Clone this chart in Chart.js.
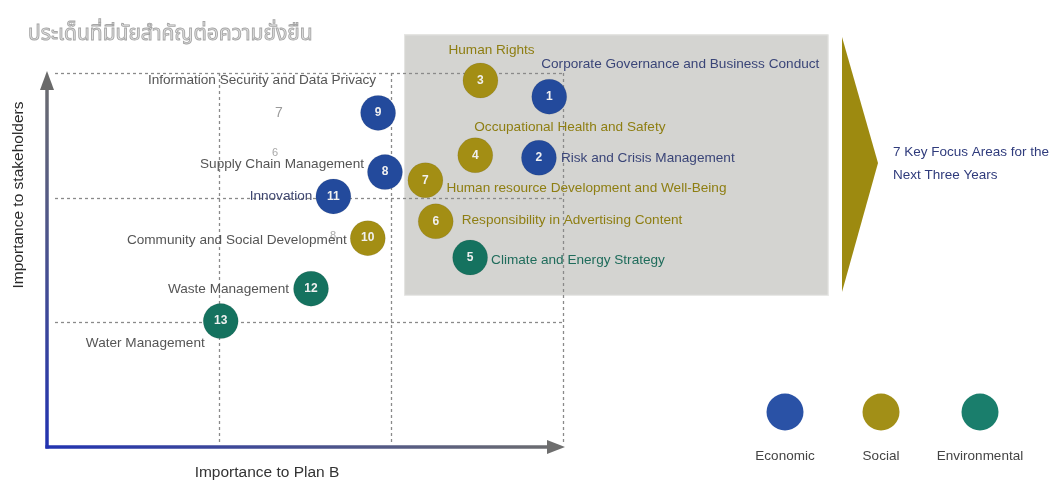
<!DOCTYPE html>
<html>
<head>
<meta charset="utf-8">
<script src="https://cdn.jsdelivr.net/npm/chart.js@4.4.0/dist/chart.umd.min.js"></script>
<style>
  body { margin: 0; background: #fff; }
  #wrap { width: 1056px; height: 481px; position: relative; }
</style>
</head>
<body>
<div id="wrap"><canvas id="matrix"></canvas></div>
<script>
// materiality topics, numbered 1..13
const topics = [
  "Corporate Governance and Business Conduct",
  "Risk and Crisis Management",
  "Human Rights",
  "Occupational Health and Safety",
  "Climate and Energy Strategy",
  "Responsibility in Advertising Content",
  "Human resource Development and Well-Being",
  "Supply Chain Management",
  "Information Security and Data Privacy",
  "Community and Social Development",
  "Innovation",
  "Waste Management",
  "Water Management"
];
const planB        = [2.92, 2.86, 2.52, 2.49, 2.46, 2.26, 2.20, 1.965, 1.925, 1.865, 1.665, 1.535, 1.01];
const stakeholders = [2.81, 2.32, 2.94, 2.34, 1.52, 1.81, 2.14, 2.205, 2.68, 1.675, 2.01, 1.27, 1.01];
const pillar = ["Economic", "Economic", "Social", "Social", "Environmental", "Social", "Social",
                "Economic", "Economic", "Social", "Economic", "Environmental", "Environmental"];
const pillars = ["Economic", "Social", "Environmental"];
const gridTicks = [1, 2, 3];

const pillarColor = { Economic: "#234a9c", Social: "#a38e14", Environmental: "#15725f" };
const legendColor = { Economic: "#2a52a6", Social: "#a28f17", Environmental: "#1a7e6c" };
const labelColor = { Economic: "#3a4578", Social: "#8e7e12", Environmental: "#1f6c5b" };

// label placement relative to bubble centre: [dx, dy, align, coloured?]
const labelPos = [
  [-8, -32, "left", true],
  [22, 0, "left", true],
  [-32, -30, "left", true],
  [-1, -28, "left", true],
  [21, 3, "left", true],
  [26, -1, "left", true],
  [21, 8, "left", true],
  [-21, -8, "right", false],
  [-2, -33, "right", false],
  [-21, 2, "right", false],
  [-21, 0, "right", false],
  [-22, 1, "right", false],
  [-16, 22, "right", false]
];

const datasets = pillars.map(function (p) {
  const pts = [];
  topics.forEach(function (t, i) {
    if (pillar[i] === p) pts.push({ x: planB[i], y: stakeholders[i], n: i + 1 });
  });
  return {
    label: p,
    data: pts,
    backgroundColor: pillarColor[p],
    borderColor: "rgba(0,0,0,0.08)",
    borderWidth: 1,
    pointRadius: 17.5,
    pointHoverRadius: 17.5,
    clip: false
  };
});

const FONT = '"Liberation Sans", Arial, Helvetica, sans-serif';

const decor = {
  id: "decor",
  beforeDatasetsDraw(chart) {
    const ctx = chart.ctx;
    const xs = chart.scales.x, ys = chart.scales.y;
    ctx.save();
    // focus box
    const bx0 = xs.getPixelForValue(2.076), bx1 = xs.getPixelForValue(4.54);
    const by0 = ys.getPixelForValue(3.31), by1 = ys.getPixelForValue(1.22);
    ctx.fillStyle = "#d4d4d1";
    ctx.fillRect(bx0, by0, bx1 - bx0, by1 - by0);
    ctx.strokeStyle = "#e6e6e4";
    ctx.lineWidth = 1;
    ctx.strokeRect(bx0 + 0.5, by0 + 0.5, bx1 - bx0, by1 - by0);

    // dashed grid
    ctx.strokeStyle = "#8a8a8a";
    ctx.lineWidth = 1.3;
    ctx.setLineDash([3, 3]);
    const left = xs.getPixelForValue(0), right = xs.getPixelForValue(3);
    const bottom = ys.getPixelForValue(0), top = ys.getPixelForValue(3);
    gridTicks.forEach(function (v) {
      const y = Math.round(ys.getPixelForValue(v)) + 0.5;
      ctx.beginPath(); ctx.moveTo(left + 8, y); ctx.lineTo(right, y); ctx.stroke();
      const x = Math.round(xs.getPixelForValue(v)) + 0.5;
      ctx.beginPath(); ctx.moveTo(x, top); ctx.lineTo(x, bottom - 3); ctx.stroke();
    });
    ctx.setLineDash([]);

    // axes with gradient arrows
    let g = ctx.createLinearGradient(0, bottom, 0, top);
    g.addColorStop(0, "#2233b0");
    g.addColorStop(1, "#6e6e6e");
    ctx.strokeStyle = g;
    ctx.lineWidth = 3.5;
    ctx.beginPath(); ctx.moveTo(left, bottom + 1.5); ctx.lineTo(left, top + 14); ctx.stroke();
    ctx.fillStyle = "#6a6a6a";
    ctx.beginPath(); ctx.moveTo(left, top - 2); ctx.lineTo(left - 7, top + 17); ctx.lineTo(left + 7, top + 17); ctx.closePath(); ctx.fill();

    g = ctx.createLinearGradient(left, 0, right, 0);
    g.addColorStop(0, "#2233b0");
    g.addColorStop(1, "#6e6e6e");
    ctx.strokeStyle = g;
    ctx.beginPath(); ctx.moveTo(left - 1.5, bottom); ctx.lineTo(right - 12, bottom); ctx.stroke();
    ctx.fillStyle = "#6e6e6e";
    ctx.beginPath(); ctx.moveTo(right + 2, bottom); ctx.lineTo(right - 16, bottom - 7); ctx.lineTo(right - 16, bottom + 7); ctx.closePath(); ctx.fill();

    // axis titles
    ctx.fillStyle = "#333";
    ctx.font = "15.5px " + FONT;
    ctx.textAlign = "center";
    ctx.textBaseline = "middle";
    ctx.fillText("Importance to Plan B", 267, 473);
    ctx.save();
    ctx.translate(19, 195);
    ctx.rotate(-Math.PI / 2);
    ctx.font = "15.5px " + FONT;
    ctx.fillStyle = "#2a2a2a";
    ctx.fillText("Importance to stakeholders", 0, 0);
    ctx.restore();

    // faint stray digits from the source artwork
    ctx.fillStyle = "#9a9a9a";
    ctx.font = "14px " + FONT;
    ctx.fillText("7", 279, 113);
    ctx.fillStyle = "#a8a8a8";
    ctx.font = "11px " + FONT;
    ctx.fillText("6", 275, 153);
    ctx.fillText("8", 333, 236);

    // title
    ctx.textAlign = "left";
    ctx.textBaseline = "alphabetic";
    ctx.font = '21px "Noto Sans Thai", "Noto Sans", ' + FONT;
    ctx.fillStyle = "#e2e2e2";
    ctx.fillText("ประเด็นที่มีนัยสำคัญต่อความยั่งยืน", 28, 40);
    ctx.strokeStyle = "#a6a6a6";
    ctx.lineWidth = 0.9;
    ctx.strokeText("ประเด็นที่มีนัยสำคัญต่อความยั่งยืน", 28, 40);

    // arrow to focus statement
    ctx.fillStyle = "#9d8a10";
    ctx.beginPath(); ctx.moveTo(842, 37); ctx.lineTo(878, 163); ctx.lineTo(842, 292); ctx.closePath(); ctx.fill();
    ctx.fillStyle = "#2f3b7c";
    ctx.font = "13.5px " + FONT;
    ctx.textBaseline = "middle";
    ctx.fillText("7 Key Focus Areas for the", 893, 152);
    ctx.fillText("Next Three Years", 893, 175);

    // legend
    const lx = [785, 881, 980];
    pillars.forEach(function (p, i) {
      ctx.fillStyle = legendColor[p];
      ctx.beginPath(); ctx.arc(lx[i], 412, 18.5, 0, Math.PI * 2); ctx.fill();
      ctx.fillStyle = "#444";
      ctx.textAlign = "center";
      ctx.font = "13.5px " + FONT;
      ctx.fillText(p, lx[i], 456);
    });
    ctx.restore();
  },
  afterDatasetsDraw(chart) {
    const ctx = chart.ctx;
    ctx.save();
    ctx.textBaseline = "middle";
    chart.data.datasets.forEach(function (ds, di) {
      const meta = chart.getDatasetMeta(di);
      meta.data.forEach(function (el, j) {
        const n = ds.data[j].n;
        const i = n - 1;
        ctx.fillStyle = "#f0f0f0";
        ctx.font = "bold 12px " + FONT;
        ctx.textAlign = "center";
        ctx.fillText(String(n), el.x, el.y);
        const lp = labelPos[i];
        ctx.font = "13.6px " + FONT;
        ctx.textAlign = lp[2];
        ctx.fillStyle = lp[3] ? labelColor[pillar[i]] : (n === 11 ? "#3f4770" : "#555");
        ctx.fillText(topics[i], el.x + lp[0], el.y + lp[1]);
      });
    });
    ctx.restore();
  }
};

new Chart(document.getElementById("matrix"), {
  type: "scatter",
  data: { datasets: datasets },
  options: {
    responsive: true,
    maintainAspectRatio: false,
    animation: false,
    layout: { padding: { left: 47, right: 493, top: 73, bottom: 34 } },
    scales: {
      x: { display: false, min: 0, max: 3 },
      y: { display: false, min: 0, max: 3 }
    },
    plugins: {
      legend: { display: false },
      tooltip: { enabled: false }
    }
  },
  plugins: [decor]
});
</script>
</body>
</html>
